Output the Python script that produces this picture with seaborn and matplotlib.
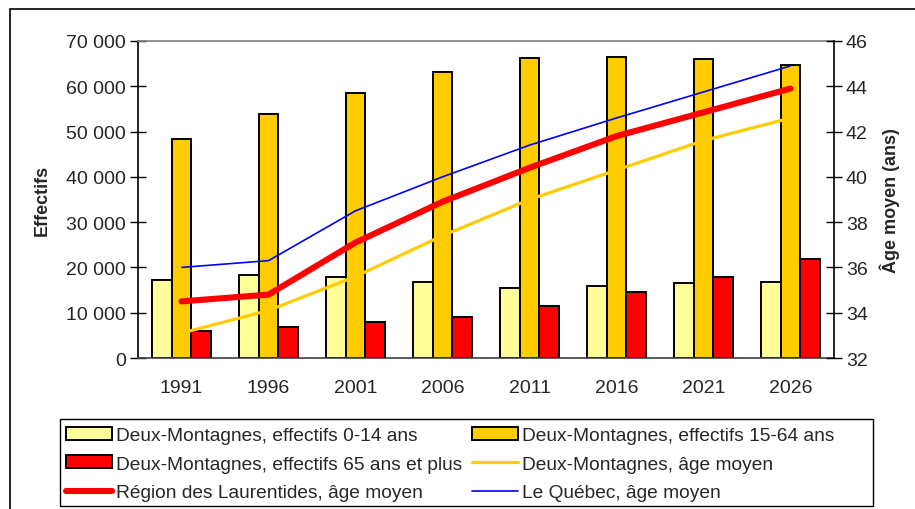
import numpy as np
import pandas as pd
import matplotlib
matplotlib.use("Agg")
import matplotlib.pyplot as plt
import matplotlib.ticker as mticker
from matplotlib.patches import Patch, Rectangle
from matplotlib.lines import Line2D
import seaborn as sns

# ---------------- data ----------------
years = ["1991", "1996", "2001", "2006", "2011", "2016", "2021", "2026"]
eff_0_14 = [17200, 18300, 17950, 16700, 15550, 15900, 16500, 16800]
eff_15_64 = [48300, 53900, 58600, 63200, 66200, 66500, 66100, 64800]
eff_65_plus = [5900, 6900, 7950, 9100, 11450, 14500, 17800, 21800]
age_dm = [33.1, 34.1, 35.6, 37.4, 39.0, 40.3, 41.6, 42.6]
age_laurentides = [34.5, 34.8, 37.1, 38.9, 40.4, 41.8, 42.85, 43.9]
age_quebec = [36.0, 36.3, 38.5, 40.0, 41.4, 42.6, 43.75, 44.9]

bar_labels = ["Deux-Montagnes, effectifs 0-14 ans",
              "Deux-Montagnes, effectifs 15-64 ans",
              "Deux-Montagnes, effectifs 65 ans et plus"]
line_labels = ["Deux-Montagnes, âge moyen",
               "Région des Laurentides, âge moyen",
               "Le Québec, âge moyen"]
bar_colors = ["#FFFF99", "#FFCC00", "#FF0000"]
line_colors = ["#FFCC00", "#FF0000", "#0000FF"]
line_widths = [2.3, 4.4, 1.2]

# ---------------- style ----------------
sns.set_style("white")
plt.rcParams["font.family"] = ["Liberation Sans", "DejaVu Sans"]

df_bars = pd.DataFrame({
    "Année": years * 3,
    "Effectifs": eff_0_14 + eff_15_64 + eff_65_plus,
    "Groupe": [bar_labels[0]] * 8 + [bar_labels[1]] * 8 + [bar_labels[2]] * 8,
})

fig = plt.figure(figsize=(9.15, 5.10), dpi=100)
ax = fig.add_axes([138 / 915, 1 - 359 / 510, (834 - 138) / 915, (359 - 42) / 510])

sns.barplot(data=df_bars, x="Année", y="Effectifs", hue="Groupe",
            hue_order=bar_labels, order=years, palette=bar_colors,
            saturation=1, width=0.67, edgecolor="black", linewidth=1.4,
            legend=False, ax=ax, errorbar=None)

ax.set_xlim(-0.5, len(years) - 0.5)
ax.set_ylim(0, 70000)
ax.yaxis.set_major_locator(mticker.MultipleLocator(10000))
ax.yaxis.set_major_formatter(mticker.FuncFormatter(
    lambda v, p: f"{int(v):,}".replace(",", " ")))
ax.set_xlabel("")
ax.set_ylabel("Effectifs", fontsize=13, fontweight="bold")
ax.yaxis.set_label_coords(-0.126, 0.5)
ax.tick_params(axis="y", which="major", direction="inout", length=11,
               width=1, color="black", labelsize=14, pad=3)
ax.tick_params(axis="x", which="major", length=0, labelsize=14, pad=15)
ax.xaxis.set_minor_locator(mticker.FixedLocator(np.arange(-0.5, len(years), 1.0)))
ax.tick_params(axis="x", which="minor", direction="inout", length=11,
               width=1, color="black")
ax.spines["left"].set_color("black")
ax.spines["left"].set_linewidth(1.2)
ax.spines["top"].set_color("#808080")
ax.spines["top"].set_linewidth(1.2)
ax.spines["bottom"].set_color("#404040")
ax.spines["bottom"].set_linewidth(1.2)
ax.spines["right"].set_visible(False)

# ---------------- twin axis lines ----------------
ax2 = ax.twinx()
pos = np.arange(len(years))
for vals, lab, col, lw in zip([age_dm, age_laurentides, age_quebec],
                              line_labels, line_colors, line_widths):
    d = pd.DataFrame({"pos": pos, "age": vals})
    sns.lineplot(data=d, x="pos", y="age", color=col, linewidth=lw, ax=ax2,
                 solid_capstyle="round" if lw > 4 else "butt")
ax2.set_xlim(-0.5, len(years) - 0.5)
ax2.set_ylim(32, 46)
ax2.yaxis.set_major_locator(mticker.MultipleLocator(2))
ax2.set_ylabel("Âge moyen (ans)", fontsize=13, fontweight="bold")
ax2.yaxis.set_label_coords(1.066, 0.5)
ax2.tick_params(axis="y", which="major", direction="inout", length=11,
                width=1, color="black", labelsize=14, pad=3, right=True)
for side in ["left", "top", "bottom"]:
    ax2.spines[side].set_visible(False)
ax2.spines["right"].set_color("black")
ax2.spines["right"].set_linewidth(1.2)
ax2.set_xlabel("")

# ---------------- legend ----------------
bar_handles = [Patch(facecolor=c, edgecolor="black", linewidth=1.4) for c in bar_colors]
line_handles = [Line2D([0], [0], color=c, linewidth=lw) for c, lw in zip(line_colors, line_widths)]
handles = [bar_handles[0], bar_handles[2], line_handles[1],
           bar_handles[1], line_handles[0], line_handles[2]]
labels = [bar_labels[0], bar_labels[2], line_labels[1],
          bar_labels[1], line_labels[0], line_labels[2]]
leg = fig.legend(handles, labels, loc="upper left",
                 bbox_to_anchor=(60 / 915, 1 - 422 / 510), ncol=2,
                 frameon=False,
                 fontsize=13.8, handlelength=2.4, handleheight=0.66,
                 handletextpad=0.2, columnspacing=0.55, labelspacing=0.6,
                 borderpad=0.3, borderaxespad=0)

# legend box
fig.patches.append(Rectangle((60 / 915, 1 - 507 / 510), (873 - 60) / 915, 87 / 510,
                             transform=fig.transFigure, fill=False,
                             edgecolor="black", linewidth=1.0))

# outer chart border
fig.patches.append(Rectangle((10 / 915, -0.1), 1.2, 1 - 10 / 510 + 0.1,
                             transform=fig.transFigure, fill=False,
                             edgecolor="black", linewidth=1.2))

fig.savefig("out.png", dpi=100)
